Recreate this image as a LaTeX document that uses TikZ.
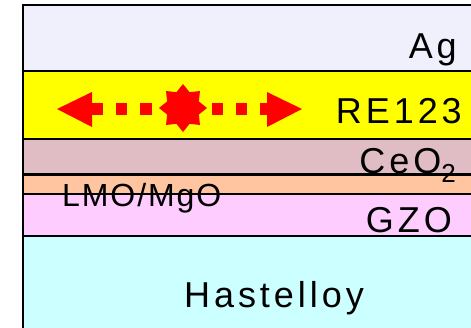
\documentclass[tikz,border=0pt]{standalone}
\usepackage{fontspec}
\setmainfont{Liberation Sans}[LetterSpace=11]
\newfontfamily\narrowlbl{Liberation Sans}[LetterSpace=6]
\usetikzlibrary{shapes.geometric}
\definecolor{agcol}{HTML}{F0F0FC}
\definecolor{recol}{HTML}{FFFF00}
\definecolor{cecol}{HTML}{E0BCC4}
\definecolor{lmocol}{HTML}{FFC4A0}
\definecolor{gzocol}{HTML}{FFCCFF}
\definecolor{hascol}{HTML}{CCFFFF}
\begin{document}
\begin{tikzpicture}[x=1pt,y=-1pt,
  layer/.style={draw=black,line width=1.1pt},
  lbl/.style={inner sep=0pt,font=\fontsize{36}{40}\selectfont},
  mark red/.style={fill=red,draw=none}]
\useasboundingbox (0,0) rectangle (471,327);
\clip (0,0) rectangle (471,327);
% layer stack, top to bottom
\fill[white] (0,0) rectangle (471,327);
\draw[layer,fill=hascol] (23,236) rectangle (480,340);
\draw[layer,fill=gzocol] (23,194) rectangle (480,236);
\draw[layer,fill=lmocol] (23,175) rectangle (480,194);
\draw[layer,fill=cecol] (23,139) rectangle (480,174);
\draw[layer,fill=recol] (23,71) rectangle (480,139);
\draw[layer,fill=agcol] (23,5) rectangle (480,71);
% outer frame
\draw[line width=2pt] (23,340) -- (23,5) -- (480,5);
% labels
\node[lbl,anchor=base east] (ag) at (457,58) {Ag};
\node[lbl,anchor=base east] (re) at (462,123) {RE123};
\node[lbl,anchor=base east] (ce) at (456,173) {CeO\raisebox{-9pt}{\fontsize{26}{26}\selectfont 2}};
\node[lbl,anchor=base west,font=\narrowlbl\fontsize{32}{36}\selectfont] (lmo) at (62,206) {LMO/MgO};
\node[lbl,anchor=base east] (gzo) at (452,232) {GZO};
\node[lbl,anchor=base] (has) at (274,307) {Hastelloy};
% in-plane growth arrow
\fill[mark red] (57,109) -- (92,92) -- (92,127) -- cycle;
\fill[mark red] (302,109) -- (267,92) -- (267,127) -- cycle;
\fill[mark red] (91,103) rectangle (103,115);
\fill[mark red] (116,103) rectangle (127,115);
\fill[mark red] (140,103) rectangle (152,115);
\fill[mark red] (212,103) rectangle (223,115);
\fill[mark red] (236,103) rectangle (247,115);
\fill[mark red] (260,103) rectangle (268,115);
\node[star,star points=8,star point ratio=1.4,mark red,minimum size=48pt,inner sep=0pt] (seed) at (183,108) {};
\end{tikzpicture}
\end{document}
